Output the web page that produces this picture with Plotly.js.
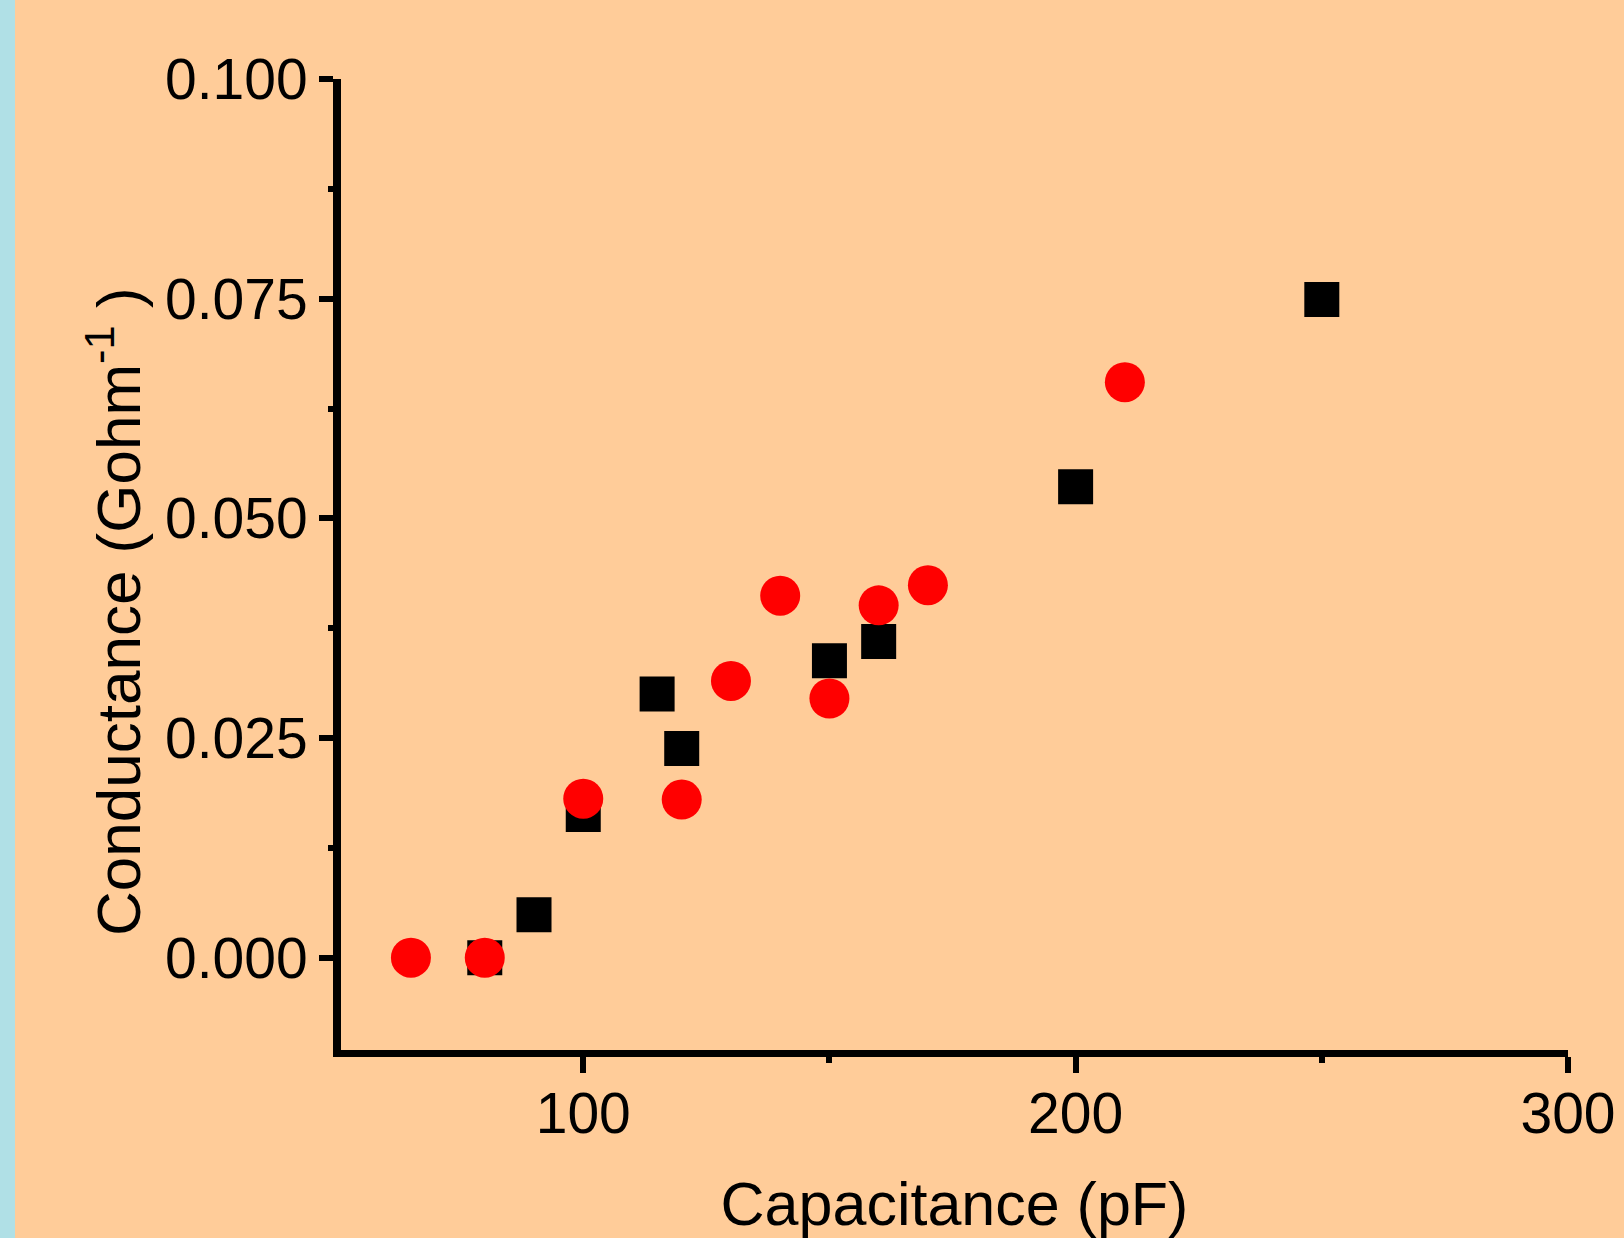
<!DOCTYPE html>
<html>
<head>
<meta charset="utf-8">
<script src="https://cdn.plot.ly/plotly-3.0.1.min.js"></script>
<style>
  html, body { margin: 0; padding: 0; background: #B0E0E6; width: 1624px; height: 1238px; overflow: hidden; }
  #chart { position: absolute; left: 15px; top: 0; width: 1609px; height: 1238px; }
</style>
</head>
<body>
<div id="chart"></div>
<script>
// Series 1: black squares
const squareCap = [80, 90, 100, 115, 120, 150, 160, 200, 250];
const squareCond = [0.000, 0.0049, 0.0163, 0.0300, 0.0238, 0.0338, 0.0360, 0.0536, 0.0749];
// Series 2: red circles
const circleCap = [65, 80, 100, 120, 130, 140, 150, 160, 170, 210];
const circleCond = [0.000, 0.000, 0.0181, 0.0180, 0.0315, 0.0412, 0.0295, 0.0401, 0.0424, 0.0655];

const xTitle = 'Capacitance (pF)';
const yTitle = 'Conductance (Gohm<sup>-1</sup> )';

const FONT = 'Arial, "Liberation Sans", Helvetica, sans-serif';

const traces = [
  {
    x: squareCap, y: squareCond, type: 'scatter', mode: 'markers',
    marker: { symbol: 'square', size: 35, color: '#000000', line: { width: 0 } },
    name: 'squares', hoverinfo: 'x+y'
  },
  {
    x: circleCap, y: circleCond, type: 'scatter', mode: 'markers',
    marker: { symbol: 'circle', size: 40, color: '#FF0000', line: { width: 0 } },
    name: 'circles', hoverinfo: 'x+y'
  }
];

const layout = {
  width: 1609, height: 1238,
  margin: { l: 326, r: 56, t: 79, b: 188, pad: 0 },
  paper_bgcolor: '#FFCC99',
  plot_bgcolor: '#FFCC99',
  showlegend: false,
  font: { family: FONT, color: '#000000' },
  xaxis: {
    range: [50.8, 300],
    tickmode: 'linear', tick0: 0, dtick: 100,
    ticks: 'outside', ticklen: 16, tickwidth: 6, tickcolor: '#000000',
    showline: true, linewidth: 7, linecolor: '#000000',
    showgrid: false, zeroline: false,
    tickfont: { family: FONT, size: 57, color: '#000000' },
    ticklabelstandoff: -8,
    minor: { tick0: 0, dtick: 50, ticks: 'outside', ticklen: 6, tickwidth: 6, tickcolor: '#000000', showgrid: false },
    title: { text: xTitle, font: { family: FONT, size: 61, color: '#000000' }, standoff: 42 },
    automargin: false
  },
  yaxis: {
    range: [-0.0105, 0.1],
    tickmode: 'linear', tick0: 0, dtick: 0.025, tickformat: '.3f',
    ticks: 'outside', ticklen: 14, tickwidth: 6, tickcolor: '#000000',
    showline: true, linewidth: 8, linecolor: '#000000',
    showgrid: false, zeroline: false,
    tickfont: { family: FONT, size: 57, color: '#000000' },
    ticklabelstandoff: 0,
    minor: { tick0: 0, dtick: 0.0125, ticks: 'outside', ticklen: 5, tickwidth: 6, tickcolor: '#000000', showgrid: false },
    automargin: false
  },
  annotations: [
    {
      text: yTitle, textangle: -90, showarrow: false,
      xref: 'paper', yref: 'paper',
      x: (114 - 341) / 1227, y: (1050 - 612) / 971,
      xanchor: 'center', yanchor: 'middle',
      font: { family: FONT, size: 62, color: '#000000' }
    }
  ]
};

Plotly.newPlot('chart', traces, layout, { displayModeBar: false, staticPlot: true });
</script>
</body>
</html>
